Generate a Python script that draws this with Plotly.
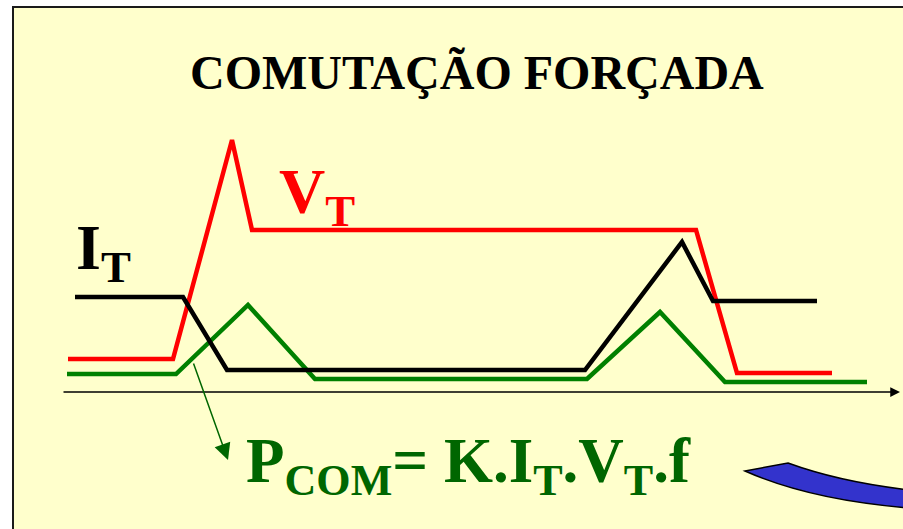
import plotly.graph_objects as go

# --- data (time axis units, amplitude above the time axis) ---
vt_t = [68, 173, 232, 252, 696, 737, 832]
vt_v = [33, 33, 252, 162, 162, 19, 19]

it_t = [75, 183, 227, 585, 682, 713, 817]
it_v = [95, 95, 22, 22, 150, 91, 91]

p_t = [67, 176, 248, 315, 587, 660, 725, 867]
p_v = [18, 18, 87, 13, 13, 80, 10, 10]

W, H = 903, 529
AX0 = 392  # pixel row of the time axis


def Y(py):
    return AX0 - py


SERIF = "Liberation Serif, Times New Roman, serif"
fig = go.Figure()

fig.add_trace(go.Scatter(x=vt_t, y=vt_v, mode="lines",
                         line=dict(color="#FF0000", width=4.5), hoverinfo="skip"))
fig.add_trace(go.Scatter(x=p_t, y=p_v, mode="lines",
                         line=dict(color="#008000", width=4.5), hoverinfo="skip"))
fig.add_trace(go.Scatter(x=it_t, y=it_v, mode="lines",
                         line=dict(color="#000000", width=4.5), hoverinfo="skip"))

shapes = [
    dict(type="rect", xref="x", yref="y", x0=13, x1=W + 10, y0=Y(7), y1=Y(H + 10),
         fillcolor="#FFFFCC", line=dict(color="#1a1a1a", width=2), layer="below"),
    dict(type="path", xref="x", yref="y",
         path=(f"M 745,{Y(471)} L 788,{Y(463)} Q 840,{Y(482)} 910,{Y(490)} "
               f"L 910,{Y(508)} Q 810,{Y(500)} 745,{Y(471)} Z"),
         fillcolor="#3333CC", line=dict(color="#000000", width=1.5), layer="above"),
]

annotations = [
    # time axis
    dict(x=900, y=0, ax=62, ay=0, xref="x", yref="y", axref="x", ayref="y",
         text="", showarrow=True, arrowhead=2, arrowsize=1.3, arrowwidth=1.5,
         arrowcolor="#000000"),
    # green pointer
    dict(x=228, y=Y(460), ax=193, ay=Y(362), xref="x", yref="y", axref="x", ayref="y",
         text="", showarrow=True, arrowhead=2, arrowsize=2.2, arrowwidth=1.5,
         arrowcolor="#006600"),
    dict(x=477, y=Y(72), xref="x", yref="y", showarrow=False,
         text="<b>COMUTAÇÃO FORÇADA</b>",
         font=dict(family=SERIF, size=48, color="#000000")),
    dict(x=74, y=Y(252), xref="x", yref="y", showarrow=False, xanchor="left",
         text="<b>I<sub>T</sub></b>",
         font=dict(family=SERIF, size=64, color="#000000")),
    dict(x=277, y=Y(196), xref="x", yref="y", showarrow=False, xanchor="left",
         text="<b>V<sub>T</sub></b>",
         font=dict(family=SERIF, size=64, color="#FF0000")),
    dict(x=244, y=Y(465), xref="x", yref="y", showarrow=False, xanchor="left",
         text="<b>P<sub>COM</sub>= K.I<sub>T</sub>.V<sub>T</sub>.f</b>",
         font=dict(family=SERIF, size=63, color="#006600")),
]

fig.update_layout(
    width=W, height=H,
    margin=dict(l=0, r=0, t=0, b=0),
    paper_bgcolor="#FFFFFF", plot_bgcolor="#FFFFFF",
    showlegend=False,
    xaxis=dict(range=[0, W], visible=False, fixedrange=True),
    yaxis=dict(range=[Y(H), Y(0)], visible=False, fixedrange=True),
    shapes=shapes, annotations=annotations,
)

fig.write_html(
    "out.html",
    config={"displayModeBar": False},
    post_script="document.body.style.margin='0';document.body.style.overflow='hidden';",
)
